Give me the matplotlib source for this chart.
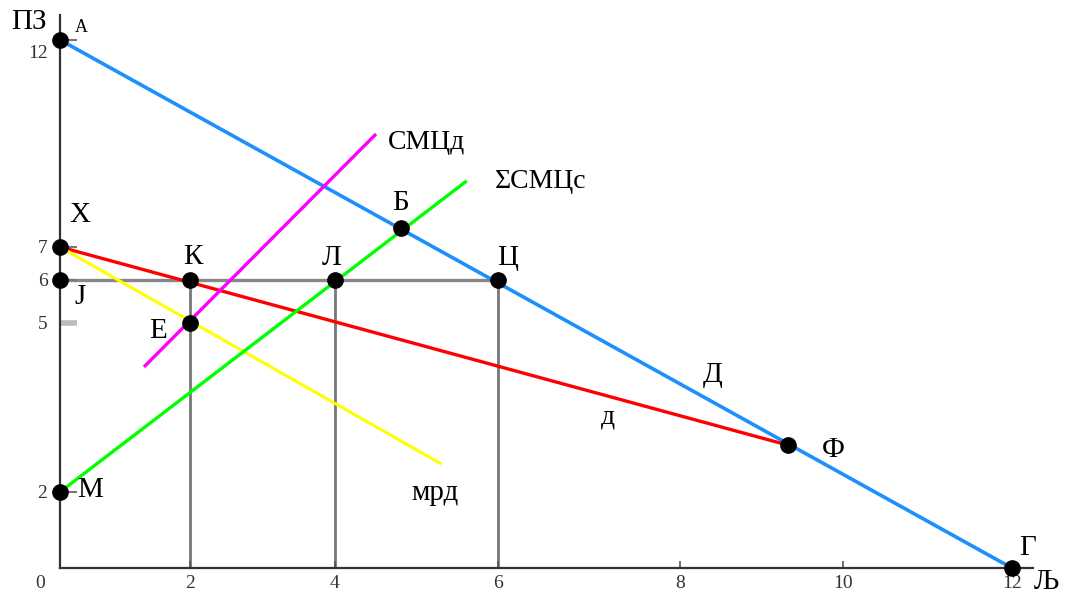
import numpy as np
import matplotlib
matplotlib.use("Agg")
import matplotlib.pyplot as plt
from matplotlib.transforms import ScaledTranslation

plt.rcParams['font.family'] = ['Liberation Serif', 'DejaVu Serif']

# les axes du dessin ne sont pas reguliers -> echelle par morceaux
X_KNOTS_VAL = [-2, 0, 2, 4, 6, 8, 10, 12, 14]
X_KNOTS_PIX = [-70, 0, 130, 275, 438, 620, 783, 952, 1121]
Y_KNOTS_VAL = [-2, 0, 2, 5, 6, 7, 12, 14]
Y_KNOTS_PIX = [-76, 0, 76, 245, 288, 321, 528, 611]

# graduations
x_ticks = [2, 4, 6, 8, 10, 12]
y_ticks = [2, 5, 6, 7, 12]

# points marques
point_names = ['А', 'Х', 'Ј', 'М', 'К', 'Е', 'Л', 'Ц', 'Б', 'Ф', 'Г']
point_q = [0, 0, 0, 0, 2, 2, 4, 6, 4.81, 9.33, 12]
point_p = [12, 7, 6, 2, 6, 5, 6, 6, 7.46, 2.83, 0]

# courbes
demand_q, demand_p = [0, 12], [12, 0]          # Д
mr_q, mr_p = [0, 9.33], [7, 2.83]              # д
mrd_q, mrd_p = [0, 5.29], [7, 2.51]            # мрд
smcd_q, smcd_p = [1.31, 4.49], [4.24, 9.7]     # СМЦд
smcs_q, smcs_p = [0, 5.6], [2, 8.57]           # ΣСМЦс

# lignes grises
guide_p = 6
guide_q = [2, 4, 6]


def fwd_x(v):
    return np.interp(v, X_KNOTS_VAL, X_KNOTS_PIX)

def inv_x(v):
    return np.interp(v, X_KNOTS_PIX, X_KNOTS_VAL)

def fwd_y(v):
    return np.interp(v, Y_KNOTS_VAL, Y_KNOTS_PIX)

def inv_y(v):
    return np.interp(v, Y_KNOTS_PIX, Y_KNOTS_VAL)


fig = plt.figure(figsize=(10.68, 5.99), dpi=100)
ax = fig.add_axes([60 / 1068, 31 / 599, 973 / 1068, 553 / 599])
ax.set_xscale('function', functions=(fwd_x, inv_x))
ax.set_yscale('function', functions=(fwd_y, inv_y))
ax.set_xlim(0, 12.25)
ax.set_ylim(0, 12.6)

for s in ['top', 'right']:
    ax.spines[s].set_visible(False)
for s in ['left', 'bottom']:
    ax.spines[s].set_linewidth(1.6)
    ax.spines[s].set_color('#333333')

# lignes grises
ax.plot([0, max(guide_q)], [guide_p, guide_p], color='#888888', lw=2.4, zorder=1)
for q in guide_q:
    ax.plot([q, q], [0, guide_p], color='#777777', lw=2.0, zorder=1)

ax.plot(demand_q, demand_p, color='#1E8FFF', lw=2.6, zorder=2)
ax.plot(mr_q, mr_p, color='#FF0000', lw=2.4, zorder=2)
ax.plot(mrd_q, mrd_p, color='#FFFF00', lw=2.2, zorder=2)
ax.plot(smcd_q, smcd_p, color='#FF00FF', lw=2.4, zorder=2)
ax.plot(smcs_q, smcs_p, color='#00FF00', lw=2.4, zorder=2)

ax.plot(point_q, point_p, 'o', color='black', ms=11, zorder=5, clip_on=False)

# etiquettes des points (decalage en pixels)
point_off = {'А': (21, 12), 'Х': (20, 32), 'Ј': (20, -17), 'М': (30, 2),
             'К': (3, 23), 'Е': (-32, -8), 'Л': (-3, 22), 'Ц': (10, 22),
             'Б': (0, 25), 'Ф': (45, -5), 'Г': (16, 20)}
for name, q, p in zip(point_names, point_q, point_p):
    fs = 13 if name == 'А' else 21
    ax.annotate(name, (q, p), xytext=point_off[name], textcoords='offset pixels',
                ha='center', va='center', fontsize=fs, annotation_clip=False)

# etiquettes des courbes
ax.annotate('СМЦд', (smcd_q[1], smcd_p[1]), xytext=(13, -7), textcoords='offset pixels',
            ha='left', va='center', fontsize=20)
ax.annotate('ΣСМЦс', (smcs_q[1], smcs_p[1]), xytext=(30, 0), textcoords='offset pixels',
            ha='left', va='center', fontsize=20)
ax.annotate('мрд', (mrd_q[1], mrd_p[1]), xytext=(-5, -30), textcoords='offset pixels',
            ha='center', va='center', fontsize=21)
ax.annotate('Д', (mr_q[1], mr_p[1]), xytext=(-76, 70), textcoords='offset pixels',
            ha='center', va='center', fontsize=21)
ax.annotate('д', (mr_q[1], mr_p[1]), xytext=(-180, 28), textcoords='offset pixels',
            ha='center', va='center', fontsize=20)

# titres des axes
ax.annotate('ПЗ', (0, 12), xytext=(-31, 18), textcoords='offset pixels',
            ha='center', va='center', fontsize=21, annotation_clip=False)
ax.annotate('Љ', (12, 0), xytext=(35, -14), textcoords='offset pixels',
            ha='center', va='center', fontsize=21, annotation_clip=False)
ax.annotate('0', (0, 0), xytext=(-20, -15), textcoords='offset pixels',
            ha='center', va='center', fontsize=14, color='#333333', annotation_clip=False)

ax.set_xticks(x_ticks)
ax.set_xticklabels([str(t) for t in x_ticks])
ax.set_yticks(y_ticks)
ax.set_yticklabels([str(t) for t in y_ticks])
ax.minorticks_off()
ax.tick_params(axis='x', direction='in', length=5, width=1.2, color='#555555',
               labelsize=14, labelcolor='#333333', pad=5)
ax.tick_params(axis='y', direction='in', length=12, width=1.5, color='#777777',
               labelsize=14, labelcolor='#333333', pad=9)

# le trait de 5 est plus clair et plus epais
yt = ax.yaxis.get_major_ticks()
yt[1].tick1line.set_markeredgecolor('#BBBBBB')
yt[1].tick1line.set_markeredgewidth(4)
lbl12 = yt[-1].label1
lbl12.set_transform(lbl12.get_transform() + ScaledTranslation(0, -12 / 100, fig.dpi_scale_trans))

fig.savefig('out.png', dpi=100)
